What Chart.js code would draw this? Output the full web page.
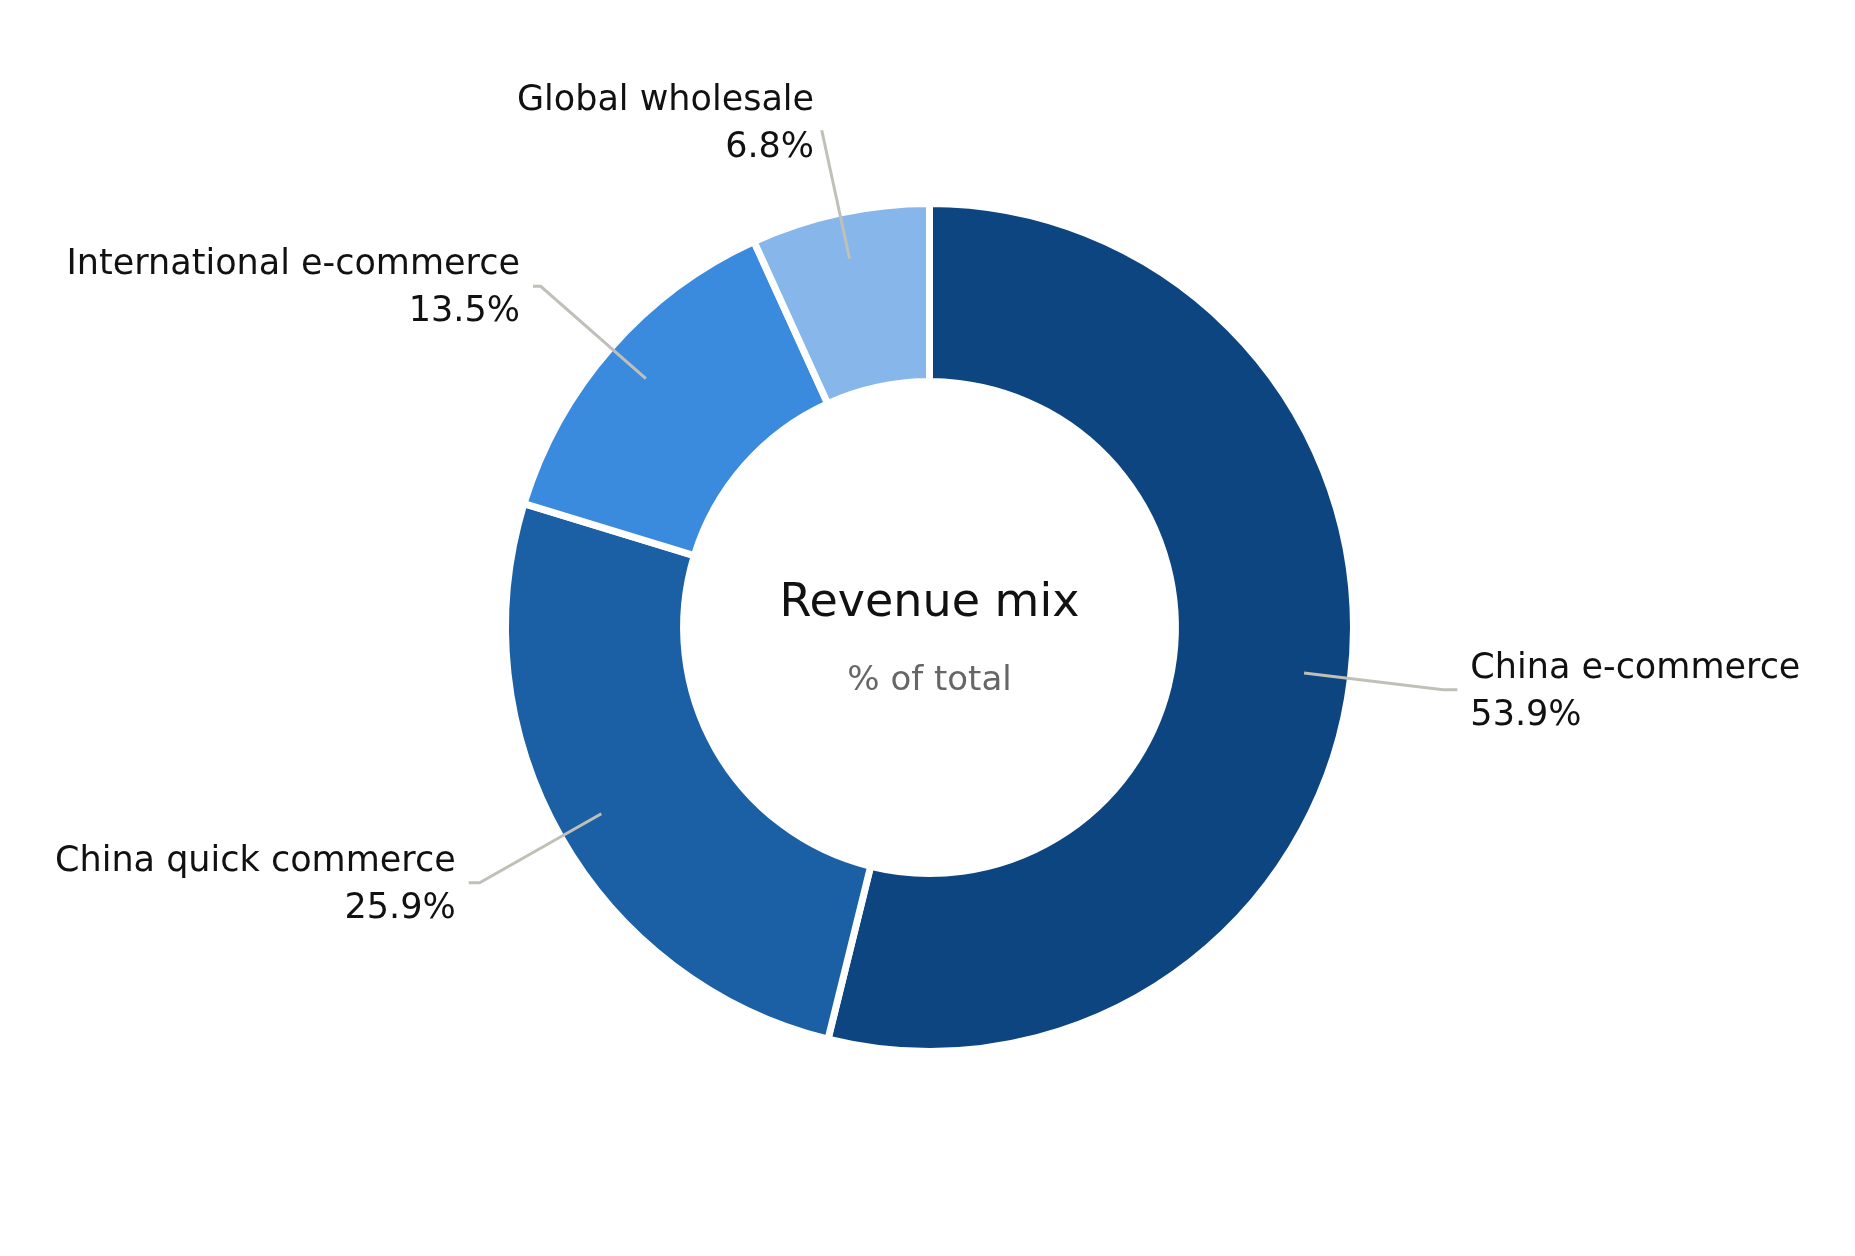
<!DOCTYPE html>
<html>
<head>
<meta charset="utf-8">
<title>Revenue mix</title>
<script src="https://cdn.jsdelivr.net/npm/chart.js@4"></script>
<style>
  html, body { margin: 0; padding: 0; background: #fff; }
  #wrap { width: 1855px; height: 1256px; position: relative; }
</style>
</head>
<body>
<div id="wrap"><canvas id="mix"></canvas></div>
<script>
"use strict";

// data
const segments = ["China e-commerce", "China quick commerce", "International e-commerce", "Global wholesale"];
const shares = [53.9, 25.9, 13.5, 6.8];
const sliceColors = ["#0d4580", "#1b5fa5", "#3a8bdd", "#87b7ea"];

const FONT = "'DejaVu Sans', 'Liberation Sans', sans-serif";

// labels outside the ring with leader lines
const calloutPlugin = {
  id: "callouts",
  afterDatasetsDraw(chart) {
    const ctx = chart.ctx;
    const arcs = chart.getDatasetMeta(0).data;
    ctx.save();
    arcs.forEach((arc, i) => {
      const R = arc.outerRadius;
      const mid = (arc.startAngle + arc.endAngle) / 2;
      const cos = Math.cos(mid);
      const sin = Math.sin(mid);
      const dir = cos >= 0 ? 1 : -1;

      const px = arc.x + cos * 1.22 * R;
      const py = arc.y + sin * 1.22 * R;
      const tx = arc.x + cos * 1.285 * R;
      const hx = tx - dir * 13;

      ctx.strokeStyle = "#c0c0b8";
      ctx.lineWidth = 3;
      ctx.beginPath();
      ctx.moveTo(arc.x + cos * 0.89 * R, arc.y + sin * 0.89 * R);
      if ((hx - px) * dir > 0) {
        ctx.lineTo(px, py);
        ctx.lineTo(hx, py);
      } else {
        // no room for the elbow, stop short of the text
        ctx.lineTo(arc.x + cos * 1.2 * R, arc.y + sin * 1.2 * R);
      }
      ctx.stroke();

      ctx.fillStyle = "#111";
      ctx.font = "35px " + FONT;
      ctx.textAlign = dir > 0 ? "left" : "right";
      ctx.textBaseline = "alphabetic";
      ctx.fillText(segments[i], tx, py - 12);
      ctx.fillText(shares[i].toFixed(1) + "%", tx, py + 35);
    });
    ctx.restore();
  }
};

// title in the hole
const centerText = {
  id: "centerText",
  afterDraw(chart) {
    const ctx = chart.ctx;
    const arc = chart.getDatasetMeta(0).data[0];
    ctx.save();
    ctx.textAlign = "center";
    ctx.textBaseline = "alphabetic";
    ctx.fillStyle = "#111";
    ctx.font = "46px " + FONT;
    ctx.fillText("Revenue mix", arc.x, arc.y - 12);
    ctx.fillStyle = "#666";
    ctx.font = "34px " + FONT;
    ctx.fillText("% of total", arc.x, arc.y + 62);
    ctx.restore();
  }
};

const ctx = document.getElementById("mix").getContext("2d");
const mixChart = new Chart(ctx, {
  type: "doughnut",
  data: {
    labels: segments,
    datasets: [
      {
        data: shares,
        backgroundColor: sliceColors,
        borderColor: "#ffffff",
        borderWidth: 7,
        hoverBorderWidth: 7,
        hoverOffset: 0,
      },
    ],
  },
  options: {
    responsive: true,
    maintainAspectRatio: false,
    animation: false,
    cutout: "58%",
    layout: {
      padding: { top: 200, bottom: 201, left: 400, right: 396 },
    },
    plugins: {
      legend: { display: false },
      tooltip: { enabled: false },
    },
    events: [],
  },
  plugins: [calloutPlugin, centerText],
});
</script>
</body>
</html>
